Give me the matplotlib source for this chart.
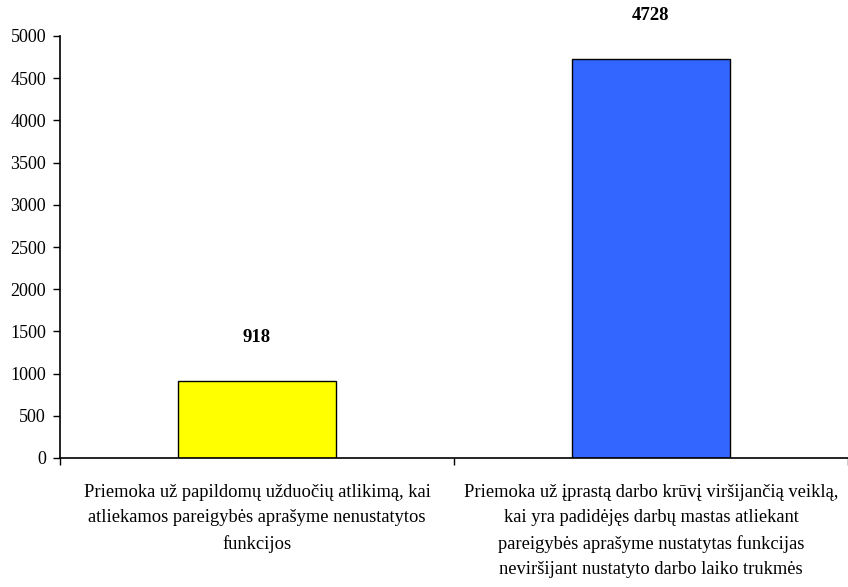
import matplotlib.pyplot as plt

categories = [
    "Priemoka už papildomų užduočių atlikimą, kai\natliekamos pareigybės aprašyme nenustatytos\nfunkcijos",
    "Priemoka už įprastą darbo krūvį viršijančią veiklą,\nkai yra padidėjęs darbų mastas atliekant\npareigybės aprašyme nustatytas funkcijas\nneviršijant nustatyto darbo laiko trukmės",
]
values = [918, 4728]
colors = ["#FFFF00", "#3366FF"]
yticks = [0, 500, 1000, 1500, 2000, 2500, 3000, 3500, 4000, 4500, 5000]

plt.rcParams["font.family"] = ["Liberation Serif", "DejaVu Serif"]

fig = plt.figure(figsize=(8.48, 5.87), dpi=100)
ax = fig.add_axes([60 / 848, 1 - 458 / 587, 788 / 848, 422 / 587])

x = list(range(len(values)))
bars = ax.bar(x, values, width=0.402, color=colors, edgecolor="black", linewidth=1)

# value labels above the bars
for b, v in zip(bars, values):
    ax.annotate(str(v), (b.get_x() + b.get_width() / 2, v), xytext=(0, 31),
                textcoords="offset points", ha="center", va="center",
                fontsize=13.5, fontweight="bold")

ax.set_ylim(0, 5000)
ax.set_xlim(-0.5, -0.5 + 788 / 398)
ax.set_yticks(yticks)
ax.tick_params(axis="y", labelsize=13, length=5, width=1, direction="out", pad=5)

# category boundaries as ticks, labels as minor ticks at centres
ax.set_xticks([-0.5, 0.5, 1.5])
ax.set_xticklabels([])
ax.set_xticks(x, minor=True)
ax.set_xticklabels(categories, minor=True, fontsize=13.3, linespacing=1.62)
ax.tick_params(axis="x", which="major", length=5, width=1, direction="out")
ax.tick_params(axis="x", which="minor", length=0, pad=19)

for s in ["top", "right"]:
    ax.spines[s].set_visible(False)
ax.spines["left"].set_linewidth(1.2)
ax.spines["bottom"].set_linewidth(1.2)

plt.savefig("out.png", dpi=100)
